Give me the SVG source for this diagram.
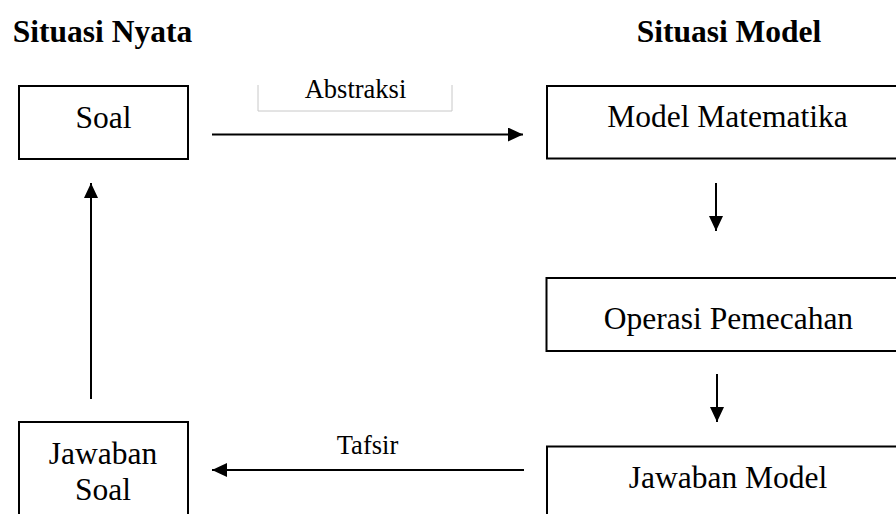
<svg xmlns="http://www.w3.org/2000/svg" width="896" height="514" viewBox="0 0 896 514">
<style>
.box{fill:#fff;stroke:#000;stroke-width:2}
.t{font-family:"Liberation Serif","Times New Roman",serif;font-size:31.5px;fill:#000;text-anchor:middle}
.h{font-family:"Liberation Serif","Times New Roman",serif;font-size:31.5px;font-weight:bold;fill:#000;text-anchor:middle}
.lbl{font-family:"Liberation Serif","Times New Roman",serif;font-size:26.5px;fill:#000;text-anchor:middle}
.c{stroke:#000;stroke-width:2;fill:none;marker-end:url(#ah)}
</style>
<defs>
<marker id="ah" markerUnits="userSpaceOnUse" markerWidth="16" markerHeight="16" refX="15" refY="7" orient="auto">
<path d="M0,0 L15,7 L0,14 z" fill="#000"/>
</marker>
</defs>
<rect width="896" height="514" fill="#fff"/>
<text class="h" x="102.5" y="41.5">Situasi Nyata</text>
<text class="h" x="729" y="41.5">Situasi Model</text>
<g id="soal">
<rect class="box" x="19" y="86" width="169" height="73"/>
<text class="t" x="103.5" y="128">Soal</text>
</g>
<g id="model-matematika">
<rect class="box" x="547" y="86" width="363" height="72.5"/>
<text class="t" x="727.5" y="127">Model Matematika</text>
</g>
<g id="operasi-pemecahan">
<rect class="box" x="546.5" y="278" width="363" height="73"/>
<text class="t" x="728.5" y="329">Operasi Pemecahan</text>
</g>
<g id="jawaban-model">
<rect class="box" x="547" y="446.5" width="363" height="80"/>
<text class="t" x="728" y="487.5">Jawaban Model</text>
</g>
<g id="jawaban-soal">
<rect class="box" x="19" y="422" width="169" height="100"/>
<text class="t" x="103" y="463.5">Jawaban</text>
<text class="t" x="103" y="499.5">Soal</text>
</g>
<g id="connectors">
<path d="M258,85 V111 H452 V85" fill="none" stroke="#c8c8c8" stroke-width="1"/>
<text class="lbl" x="355.5" y="98">Abstraksi</text>
<line class="c" x1="212" y1="134.5" x2="523" y2="134.5"/>
<line class="c" x1="716" y1="183" x2="716" y2="231"/>
<line class="c" x1="717" y1="374" x2="717" y2="422"/>
<line class="c" x1="91" y1="399" x2="91" y2="183"/>
<text class="lbl" x="367.5" y="453.5">Tafsir</text>
<line class="c" x1="524" y1="470" x2="212" y2="470"/>
</g>
</svg>
